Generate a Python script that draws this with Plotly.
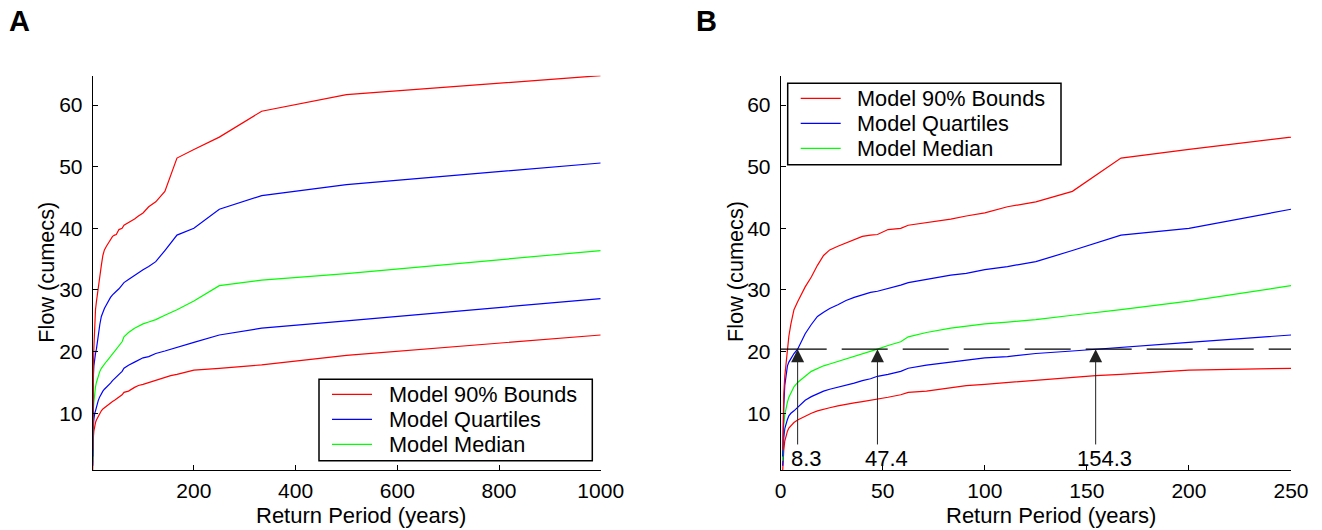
import plotly.graph_objects as go

# ---------------------------------------------------------------------------
# Data: flood frequency curves from the model ensemble
# ---------------------------------------------------------------------------
return_period = [1, 1.2, 1.5, 2, 2.5, 3.3, 4, 5, 6.5, 8.3,
                 10, 12, 15, 18, 21, 24, 28, 32, 36, 40,
                 44, 47.4, 52.6, 58.8, 62.5, 71.4, 83.3, 90.9, 100, 111.1,
                 125, 142.9, 154.3, 166.7, 200, 250, 333.3, 500, 1000]

flow_p95 = [4.0, 10.5, 13.0, 16.0, 17.7, 20.6, 22.5, 24.5, 26.8, 28.1,
            29.3, 30.5, 32.1, 34.0, 35.6, 36.5, 37.1, 37.6, 38.2, 38.7,
            38.9, 39.0, 39.8, 40.0, 40.5, 40.9, 41.5, 42.0, 42.5, 43.5,
            44.3, 46.0, 48.6, 51.4, 52.8, 54.8, 59.0, 61.7, 64.76]

flow_p75 = [3.0, 7.5, 11.0, 14.5, 16.2, 17.7, 18.3, 18.9, 19.7, 20.4,
            21.5, 22.9, 24.4, 25.7, 26.4, 27.0, 27.6, 28.3, 28.8, 29.2,
            29.6, 29.8, 30.2, 30.8, 31.2, 31.7, 32.4, 32.7, 33.3, 33.8,
            34.6, 36.4, 37.6, 38.9, 40.0, 43.1, 45.3, 47.1, 50.6]

flow_p50 = [2.3, 6.0, 8.0, 9.8, 10.8, 11.8, 12.6, 13.4, 14.3, 15.0,
            15.5, 16.0, 16.8, 17.3, 17.7, 18.0, 18.4, 18.8, 19.2, 19.6,
            20.0, 20.4, 21.0, 21.6, 22.4, 23.1, 23.8, 24.1, 24.5, 24.8,
            25.2, 25.9, 26.3, 26.8, 28.2, 30.7, 31.6, 32.65, 36.4]

flow_p25 = [1.5, 4.0, 6.0, 7.5, 8.3, 9.0, 9.6, 10.0, 10.4, 11.0,
            11.6, 12.1, 12.7, 13.2, 13.6, 13.9, 14.2, 14.5, 14.9, 15.3,
            15.6, 16.0, 16.3, 16.8, 17.3, 17.8, 18.3, 18.6, 19.0, 19.2,
            19.7, 20.1, 20.4, 20.7, 21.5, 22.7, 23.8, 25.0, 28.6]

flow_p05 = [0.8, 2.5, 4.0, 5.5, 6.3, 7.1, 7.6, 8.0, 8.5, 8.9,
            9.2, 9.6, 10.0, 10.4, 10.7, 10.9, 11.2, 11.5, 11.7, 11.9,
            12.1, 12.3, 12.6, 13.0, 13.4, 13.6, 14.2, 14.5, 14.7, 15.0,
            15.4, 15.8, 16.1, 16.3, 17.0, 17.3, 17.85, 19.4, 22.7]

legend_labels = ["Model 90% Bounds", "Model Quartiles", "Model Median"]
legend_colors = ["#ff0000", "#0000ff", "#00ff00"]

# Design flow threshold and the return periods at which each curve reaches it
threshold_flow = 20.4
crossing_periods = [8.3, 47.4, 154.3]
crossing_labels = ["8.3", "47.4", "154.3"]
arrow_tail_flow = 4.7

x_ticks_a = [200, 400, 600, 800, 1000]
x_ticks_b = [0, 50, 100, 150, 200, 250]
y_ticks = [10, 20, 30, 40, 50, 60]
y_range = [0.8, 64.76]

# ---------------------------------------------------------------------------
# Figure
# ---------------------------------------------------------------------------
W, H = 1322, 530
FONT = "Liberation Sans, Arial, Helvetica, sans-serif"
FS_TICK = 21
FS_TEXT = 22
FS_LEGEND = 21.7


def px_x(p):
    return p / W


def px_y(p):
    return 1 - p / H


fig = go.Figure()

series = [
    (flow_p95, legend_colors[0]),
    (flow_p75, legend_colors[1]),
    (flow_p50, legend_colors[2]),
    (flow_p25, legend_colors[1]),
    (flow_p05, legend_colors[0]),
]

# draw the lower curves first so the upper ones sit on top near the origin
for xa, ya in (("x", "y"), ("x2", "y2")):
    for values, color in reversed(series):
        fig.add_trace(go.Scatter(
            x=return_period, y=values, mode="lines",
            line=dict(color=color, width=1.2),
            xaxis=xa, yaxis=ya, showlegend=False, hoverinfo="skip"))

# dashed threshold line in panel B
fig.add_trace(go.Scatter(
    x=[x_ticks_b[0], x_ticks_b[-1]], y=[threshold_flow, threshold_flow],
    mode="lines", line=dict(color="black", width=1.1, dash="46px,15px"),
    xaxis="x2", yaxis="y2", showlegend=False, hoverinfo="skip"))

axis_common = dict(
    showline=True, linecolor="black", linewidth=1, mirror=False,
    ticks="inside", ticklen=5, tickwidth=1, tickcolor="black",
    showgrid=False, zeroline=False, automargin=False,
    tickfont=dict(family=FONT, size=FS_TICK, color="black"),
)

y_top, y_bot = 75.7, 470.0

fig.update_layout(
    width=W, height=H,
    margin=dict(l=0, r=0, t=0, b=0, pad=0, autoexpand=False),
    paper_bgcolor="white", plot_bgcolor="white",
    font=dict(family=FONT, size=FS_TICK, color="black"),
    xaxis=dict(domain=[px_x(92.7), px_x(600.7)], range=[1, 1000],
               tickvals=x_ticks_a, anchor="y", ticklabelstandoff=2, **axis_common),
    yaxis=dict(domain=[px_y(y_bot), px_y(y_top)], range=y_range,
               tickvals=y_ticks, anchor="x", ticklabelstandoff=5, **axis_common),
    xaxis2=dict(domain=[px_x(780.7), px_x(1291.0)], range=[0, 250],
                tickvals=x_ticks_b, anchor="y2", ticklabelstandoff=2, **axis_common),
    yaxis2=dict(domain=[px_y(y_bot), px_y(y_top)], range=y_range,
                tickvals=y_ticks, anchor="x2", ticklabelstandoff=5, **axis_common),
)

annotations = []
shapes = []

# arrows marking where each curve reaches the threshold
for period, label in zip(crossing_periods, crossing_labels):
    annotations.append(dict(
        x=period, y=threshold_flow, ax=period, ay=arrow_tail_flow,
        xref="x2", yref="y2", axref="x2", ayref="y2",
        text="", showarrow=True, arrowhead=2, arrowsize=2.6,
        arrowwidth=1, arrowcolor="#222222", standoff=0))
    annotations.append(dict(
        x=period, y=arrow_tail_flow, xref="x2", yref="y2",
        text=label, showarrow=False, xanchor="center", yanchor="middle",
        xshift=9, yshift=-12.5,
        font=dict(family=FONT, size=FS_TEXT, color="black")))

# axis titles and panel letters
for cx in (361.0, 1050.7):
    annotations.append(dict(
        x=px_x(cx), y=px_y(515), xref="paper", yref="paper",
        text="Return Period (years)", showarrow=False,
        xanchor="center", yanchor="middle",
        font=dict(family=FONT, size=FS_TEXT, color="black")))
for cx in (45.7, 735.0):
    annotations.append(dict(
        x=px_x(cx), y=px_y(272), xref="paper", yref="paper",
        text="Flow (cumecs)", textangle=-90, showarrow=False,
        xanchor="center", yanchor="middle",
        font=dict(family=FONT, size=FS_LEGEND, color="black")))
for letter, cx in (("A", 19.7), ("B", 706.5)):
    annotations.append(dict(
        x=px_x(cx), y=px_y(21), xref="paper", yref="paper",
        text=f"<b>{letter}</b>", showarrow=False,
        xanchor="center", yanchor="middle",
        font=dict(family=FONT, size=29, color="black")))

# boxed legends: panel A bottom right, panel B top left
LEG_W, LEG_H = 273.3, 81.4
for left, top in ((319.0, 379.3), (787.7, 83.3)):
    shapes.append(dict(
        type="rect", xref="paper", yref="paper",
        x0=px_x(left), x1=px_x(left + LEG_W),
        y0=px_y(top + LEG_H), y1=px_y(top),
        line=dict(color="black", width=1.5), fillcolor="white", layer="above"))
    for i, (label, color) in enumerate(zip(legend_labels, legend_colors)):
        row_y = top + 15 + 25 * i
        shapes.append(dict(
            type="line", xref="paper", yref="paper",
            x0=px_x(left + 13), x1=px_x(left + 53),
            y0=px_y(row_y), y1=px_y(row_y),
            line=dict(color=color, width=1.2), layer="above"))
        annotations.append(dict(
            x=px_x(left + 67.7), y=px_y(row_y), xref="paper", yref="paper",
            text=label, showarrow=False, xanchor="left", yanchor="middle",
            font=dict(family=FONT, size=FS_LEGEND, color="black")))

fig.update_layout(annotations=annotations, shapes=shapes)

fig.write_html("out.html")
